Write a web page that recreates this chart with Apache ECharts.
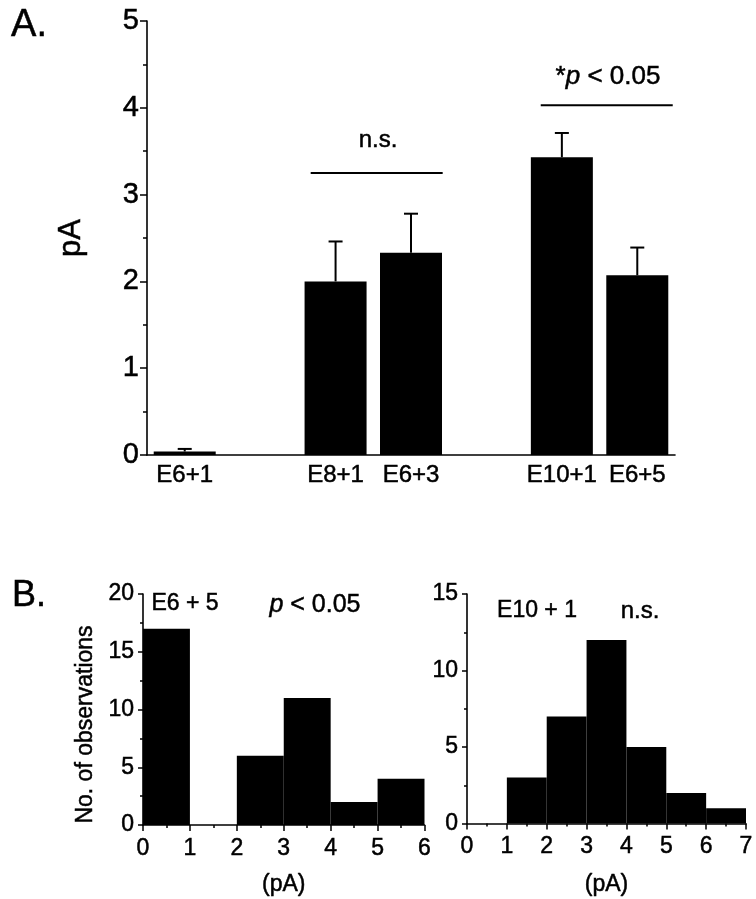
<!DOCTYPE html>
<html><head><meta charset="utf-8">
<script src="https://cdn.jsdelivr.net/npm/echarts@6/dist/echarts.min.js"></script>
<style>html,body{margin:0;padding:0;background:#fff}#c{width:756px;height:899px}</style>
</head><body><div id="c"></div>
<script>
// ---- Panel A data ----
const catsA = ['E6+1', '', 'E8+1', 'E6+3', '', 'E10+1', 'E6+5'];
const meanA = [0.04, null, 2.0, 2.33, null, 3.43, 2.07];
const errA  = [0.03, null, 0.46, 0.45, null, 0.28, 0.32];
const yTicksA = [0, 1, 2, 3, 4, 5];
// significance lines: [xStart, xEnd, y] in category units
const nsLine  = [1.67, 3.42, 3.25];
const sigLine = [4.72, 6.47, 4.03];

// ---- Panel B data (histograms) ----
const binsLeft   = [0, 1, 2, 3, 4, 5];     // bin starts, width 1 pA
const countsLeft = [17, 0, 6, 11, 2, 4];
const binsRight   = [1, 2, 3, 4, 5, 6];
const countsRight = [3, 7, 12, 5, 2, 1];

const FONT = 'Liberation Sans, Arial, sans-serif';
const BLK = '#000';
const TB = { textBorderColor: BLK, textBorderWidth: 0.5 };

const chart = echarts.init(document.getElementById('c'));

function histRender(params, api) {
  const s = api.value(0), e = api.value(1), c = api.value(2);
  const p0 = api.coord([s, 0]);
  const p1 = api.coord([e, c]);
  return { type: 'rect', shape: { x: p0[0], y: p1[1], width: p1[0] - p0[0], height: p0[1] - p1[1] },
           style: { fill: BLK } };
}
function errRender(params, api) {
  const x = api.value(0), v = api.value(1), e = api.value(2);
  const a = api.coord([x, v]);
  const b = api.coord([x, v + e]);
  const st = { stroke: BLK, lineWidth: 2 };
  return { type: 'group', children: [
    { type: 'line', shape: { x1: a[0], y1: a[1], x2: b[0], y2: b[1] }, style: st },
    { type: 'line', shape: { x1: b[0] - 7, y1: b[1], x2: b[0] + 7, y2: b[1] }, style: st }
  ]};
}

const axisLine = { show: true, onZero: false, lineStyle: { color: BLK, width: 1.6 } };
const tickStyle = { color: BLK, width: 1.5 };
function lbl(size, margin) {
  return Object.assign({ color: BLK, fontSize: size, fontFamily: FONT, margin: margin }, TB);
}
function nameStyle(size, extra) {
  return Object.assign({ color: BLK, fontSize: size, fontFamily: FONT }, TB, extra || {});
}

const errData = [];
meanA.forEach((m, i) => { if (m !== null) errData.push([i, m, errA[i]]); });

function txt(x, y, text, size, extra) {
  return { type: 'text', x: x, y: y, style: Object.assign({ text: text, font: size + 'px ' + FONT, fill: BLK,
    align: 'center', verticalAlign: 'middle', stroke: BLK, lineWidth: 0.5 }, extra || {}) };
}

const option = {
  backgroundColor: '#fff',
  animation: false,
  grid: [
    { left: 147, top: 21, width: 528, height: 434 },
    { left: 143, top: 594, width: 281.5, height: 231 },
    { left: 467, top: 594, width: 279, height: 229.5 }
  ],
  xAxis: [
    { type: 'category', gridIndex: 0, data: catsA, axisLine: axisLine, axisTick: { show: false },
      axisLabel: Object.assign(lbl(24, 8), { interval: 0 }) },
    { type: 'value', gridIndex: 0, min: -0.5, max: 6.5, show: false },
    { type: 'value', gridIndex: 1, min: 0, max: 6, interval: 1, axisLine: axisLine,
      axisTick: { show: true, length: 6, lineStyle: tickStyle },
      minorTick: { show: true, splitNumber: 2, length: 3, lineStyle: tickStyle },
      splitLine: { show: false },
      axisLabel: lbl(23, 12),
      name: '(pA)', nameLocation: 'middle', nameGap: 48,
      nameTextStyle: nameStyle(23) },
    { type: 'value', gridIndex: 2, min: 0, max: 7, interval: 1, axisLine: axisLine,
      axisTick: { show: true, length: 6, lineStyle: tickStyle },
      minorTick: { show: true, splitNumber: 2, length: 3, lineStyle: tickStyle },
      splitLine: { show: false },
      axisLabel: lbl(23, 12),
      name: '(pA)', nameLocation: 'middle', nameGap: 50,
      nameTextStyle: nameStyle(23) }
  ],
  yAxis: [
    { type: 'value', gridIndex: 0, min: yTicksA[0], max: yTicksA[yTicksA.length - 1], interval: 1,
      axisLine: axisLine,
      axisTick: { show: true, length: 7, lineStyle: tickStyle },
      minorTick: { show: true, splitNumber: 2, length: 4, lineStyle: tickStyle },
      splitLine: { show: false },
      axisLabel: lbl(29, 8),
      name: 'pA', nameLocation: 'middle', nameGap: 60, nameRotate: 90,
      nameTextStyle: nameStyle(31) },
    { type: 'value', gridIndex: 1, min: 0, max: 20, interval: 5, axisLine: axisLine,
      axisTick: { show: true, length: 5, lineStyle: tickStyle },
      minorTick: { show: true, splitNumber: 2, length: 3, lineStyle: tickStyle },
      splitLine: { show: false },
      axisLabel: lbl(23, 9),
      name: 'No. of observations', nameLocation: 'middle', nameGap: 46, nameRotate: 90,
      nameTextStyle: nameStyle(23, { padding: [0, 30, 0, 0] }) },
    { type: 'value', gridIndex: 2, min: 0, max: 15, interval: 5, axisLine: axisLine,
      axisTick: { show: true, length: 5, lineStyle: tickStyle },
      minorTick: { show: true, splitNumber: 2, length: 3, lineStyle: tickStyle },
      splitLine: { show: false },
      axisLabel: lbl(23, 9) }
  ],
  series: [
    { type: 'bar', xAxisIndex: 0, yAxisIndex: 0, data: meanA, barWidth: 62,
      itemStyle: { color: BLK } },
    { type: 'custom', xAxisIndex: 0, yAxisIndex: 0, data: errData, renderItem: errRender, z: 3 },
    { type: 'line', xAxisIndex: 1, yAxisIndex: 0, symbol: 'none',
      data: [[nsLine[0], nsLine[2]], [nsLine[1], nsLine[2]]], lineStyle: { color: BLK, width: 2 } },
    { type: 'line', xAxisIndex: 1, yAxisIndex: 0, symbol: 'none',
      data: [[sigLine[0], sigLine[2]], [sigLine[1], sigLine[2]]], lineStyle: { color: BLK, width: 2 } },
    { type: 'custom', xAxisIndex: 2, yAxisIndex: 1, renderItem: histRender,
      data: binsLeft.map((b, i) => [b, b + 1, countsLeft[i]]) },
    { type: 'custom', xAxisIndex: 3, yAxisIndex: 2, renderItem: histRender,
      data: binsRight.map((b, i) => [b, b + 1, countsRight[i]]) }
  ],
  graphic: [
    txt(29, 26, 'A.', 38),
    txt(29, 596, 'B.', 36),
    txt(378, 140, 'n.s.', 24),
    txt(608, 77, '*{i|p} < 0.05', 26, { rich: { i: { fontStyle: 'italic', fontSize: 26, fontFamily: FONT } } }),
    txt(185, 604, 'E6 + 5', 23),
    txt(315, 605, '{i|p} < 0.05', 25, { rich: { i: { fontStyle: 'italic', fontSize: 25, fontFamily: FONT } } }),
    txt(537, 611, 'E10 + 1', 23),
    txt(640, 611, 'n.s.', 24)
  ]
};
chart.setOption(option);
</script>
</body></html>
